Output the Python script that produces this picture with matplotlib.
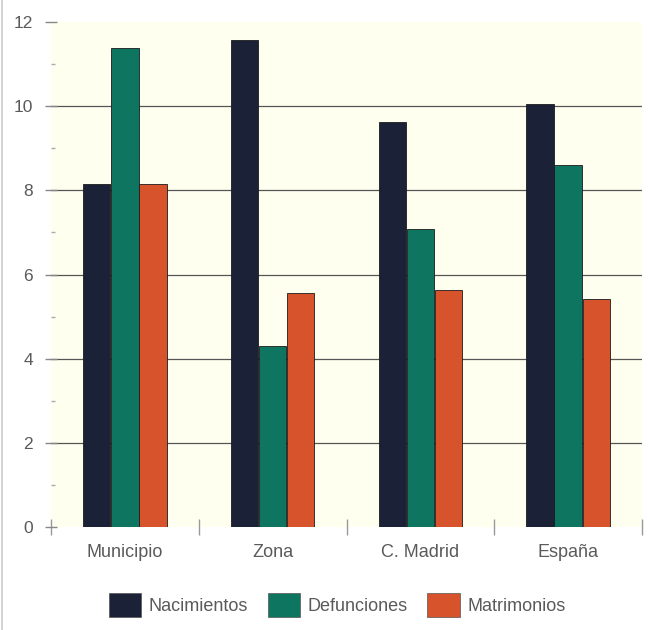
import matplotlib
matplotlib.use("Agg")
import matplotlib.pyplot as plt
from matplotlib.patches import Patch
from matplotlib.lines import Line2D
import numpy as np

categories = ["Municipio", "Zona", "C. Madrid", "España"]
series_names = ["Nacimientos", "Defunciones", "Matrimonios"]
nacimientos = [8.15, 11.57, 9.62, 10.05]
defunciones = [11.38, 4.3, 7.08, 8.6]
matrimonios = [8.15, 5.56, 5.63, 5.42]
yticks = [0, 2, 4, 6, 8, 10, 12]

colors = ["#1b2136", "#0e7660", "#d6532b"]
series = [nacimientos, defunciones, matrimonios]

plt.rcParams['font.family'] = ['Liberation Sans', 'DejaVu Sans']

fig = plt.figure(figsize=(6.49, 6.30), dpi=100)
fig.patch.set_facecolor("white")
ax = fig.add_axes([51/649, 1-527/630, (642-51)/649, (527-22)/630])
ax.set_facecolor("#fffff0")

x = np.arange(len(categories))
w = 0.185
offs = [-0.19, 0.0, 0.19]
for s, c, o, name in zip(series, colors, offs, series_names):
    ax.bar(x + o, s, width=w, color=c, edgecolor="#1a1a1a", linewidth=0.6,
           label=name, zorder=3)

ax.set_xlim(-0.5, 3.5)
ax.set_ylim(0, 12)
for yv in [2, 4, 6, 8, 10]:
    ax.axhline(yv, color="#555555", linewidth=0.9, zorder=1)

for sp in ax.spines.values():
    sp.set_visible(False)

ax.set_yticks(yticks)
ax.set_yticklabels([str(v) for v in yticks])
ax.set_yticks([1, 3, 5, 7, 9, 11], minor=True)
ax.tick_params(axis="y", which="major", direction="inout", length=8, width=1,
               color="#888888", labelcolor="#5a5a5a", labelsize=12.5, pad=9)
ax.tick_params(axis="y", which="minor", direction="in", length=3, width=1,
               color="#aaaaaa")

ax.set_xticks([-0.5, 0.5, 1.5, 2.5, 3.5])
ax.set_xticklabels([])
ax.tick_params(axis="x", which="major", direction="inout", length=12, width=1,
               color="#999999")
for xi, cat in zip(x, categories):
    ax.text(xi, -0.4, cat, ha="center", va="top", fontsize=13,
            color="#5a5a5a", transform=ax.transData)

handles = [Patch(facecolor=c, edgecolor="#555555", linewidth=0.5) for c in colors]
fig.legend(handles, series_names, loc="center", bbox_to_anchor=(337/649, 1-605/630),
           ncol=3, frameon=False, fontsize=13, handlelength=1.8, handleheight=1.6,
           handletextpad=0.4, columnspacing=1.1, labelcolor="#5a5a5a")

fig.add_artist(Line2D([2/649, 2/649], [0, 1], transform=fig.transFigure,
                      color="#cccccc", linewidth=1.2))

fig.savefig("out.png", dpi=100)
